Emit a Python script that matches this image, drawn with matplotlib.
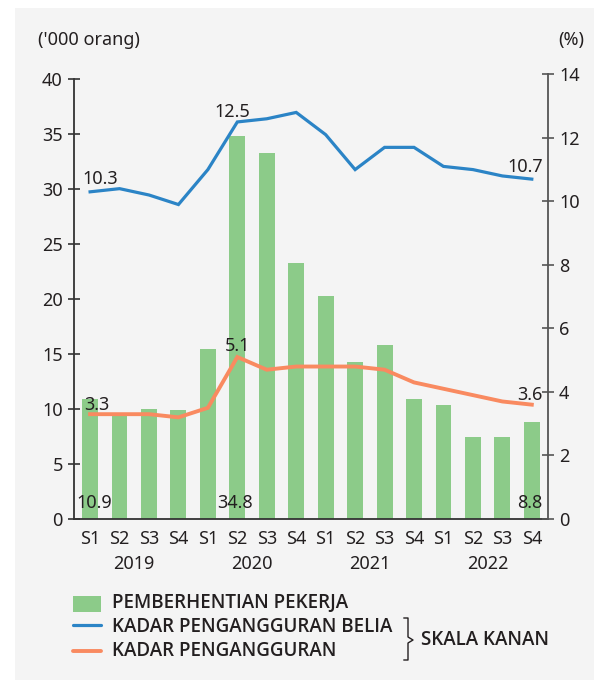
import matplotlib
matplotlib.use("Agg")
import matplotlib.pyplot as plt
from matplotlib.patches import Rectangle
from matplotlib.lines import Line2D

plt.rcParams['font.family'] = ['Noto Sans', 'DejaVu Sans']

# ---------------- data ----------------
quarters = ["S1", "S2", "S3", "S4"] * 4
years = ["2019", "2020", "2021", "2022"]
retrenchment = [10.9, 9.4, 10.0, 9.9, 15.5, 34.8, 33.3, 23.3,
                20.3, 14.3, 15.8, 10.9, 10.4, 7.5, 7.5, 8.8]
youth_unemp = [10.3, 10.4, 10.2, 9.9, 11.0, 12.5, 12.6, 12.8,
               12.1, 11.0, 11.7, 11.7, 11.1, 11.0, 10.8, 10.7]
unemp = [3.3, 3.3, 3.3, 3.2, 3.5, 5.1, 4.7, 4.8,
         4.8, 4.8, 4.7, 4.3, 4.1, 3.9, 3.7, 3.6]
legend_labels = ["PEMBERHENTIAN PEKERJA", "KADAR PENGANGGURAN BELIA",
                 "KADAR PENGANGGURAN"]

GREEN = "#8ccb89"
BLUE = "#2b84c6"
ORANGE = "#f98a60"
TXT = "#231f20"

W, H = 594, 680
fig = plt.figure(figsize=(W / 100, H / 100), dpi=100)
fig.patch.set_facecolor("white")

def fx(px):
    return px / W

def fy(py):
    return 1 - py / H

# background panel
fig.add_artist(Rectangle((fx(15), 0), 1 - fx(15), fy(8), transform=fig.transFigure,
                         facecolor="#f4f4f4", edgecolor="none", zorder=-10))

left, right = 73.9, 548
bottom_px, top_px = 519, 79
top2 = 74.3
ax = fig.add_axes([fx(left), fy(bottom_px), fx(right - left), (bottom_px - top_px) / H])
ax.patch.set_visible(False)
ax2 = fig.add_axes([fx(left), fy(bottom_px), fx(right - left), (bottom_px - top2) / H],
                   sharex=ax)
ax2.patch.set_visible(False)
ax2.yaxis.set_label_position("right")
ax2.yaxis.tick_right()
ax2.xaxis.set_visible(False)

x = list(range(len(quarters)))
ax.bar(x, retrenchment, width=0.54, color=GREEN, zorder=2)
ax2.plot(x, youth_unemp, color=BLUE, lw=2.3, solid_joinstyle="miter", zorder=3)
ax2.plot(x, unemp, color=ORANGE, lw=2.8, solid_joinstyle="miter", zorder=3)

ax.set_xlim(-0.55, 15.55)
ax.set_ylim(0, 40)
ax2.set_ylim(0, 14)
ax.set_yticks(range(0, 41, 5))
ax2.set_yticks(range(0, 15, 2))
ax.set_xticks(x)
ax.set_xticklabels(quarters)

for s in ("top", "right"):
    ax.spines[s].set_visible(False)
for s in ("top", "left", "bottom"):
    ax2.spines[s].set_visible(False)
ax.spines["left"].set_color("#333333")
ax.spines["bottom"].set_color("#333333")
ax2.spines["right"].set_color("#555555")
for s in ("left", "bottom"):
    ax.spines[s].set_linewidth(1.3)
ax2.spines["right"].set_linewidth(1.3)

ax.tick_params(axis="y", direction="inout", length=8, width=1.2, color="#333333",
               labelsize=13, labelcolor=TXT, pad=4)
ax2.tick_params(axis="y", direction="inout", length=8, width=1.2, color="#555555",
                labelsize=13, labelcolor=TXT, pad=4)
ax.tick_params(axis="x", length=0, labelsize=13, labelcolor=TXT, pad=8)

# year labels
for i, yr in enumerate(years):
    ax.annotate(yr, xy=(4 * i + 1.5, 0), xycoords=ax.get_xaxis_transform(),
                xytext=(0, -45), textcoords="offset pixels", ha="center", va="center",
                fontsize=13, color=TXT)

# axis unit labels
fig.text(fx(38), fy(40), "('000 orang)", ha="left", va="center", fontsize=13, color=TXT)
fig.text(fx(584), fy(40), "(%)", ha="right", va="center", fontsize=13, color=TXT)

# line value labels
def lab(axis, i, vals, dx, dy):
    axis.annotate(f"{vals[i]:.1f}", xy=(i, vals[i]), xytext=(dx, dy),
                  textcoords="offset pixels", ha="center", va="center",
                  fontsize=13, color=TXT, zorder=5)

lab(ax2, 0, youth_unemp, 10, 13)
lab(ax2, 5, youth_unemp, -5, 10)
lab(ax2, 15, youth_unemp, -7, 12)
lab(ax2, 0, unemp, 7, 9)
lab(ax2, 5, unemp, 0, 11)
lab(ax2, 15, unemp, -2, 10)

for i, dx in ((0, 4), (5, -2), (15, -2)):
    ax.annotate(f"{retrenchment[i]:.1f}", xy=(i, 0), xytext=(dx, 16),
                textcoords="offset pixels", ha="center", va="center",
                fontsize=13, color=TXT, zorder=5)

# legend (manual)
LEG_FONT = ["Open Sans", "Noto Sans", "DejaVu Sans"]
fig.add_artist(Rectangle((fx(73), fy(612)), fx(28), 16 / H, transform=fig.transFigure,
                         facecolor=GREEN, edgecolor="none"))
fig.add_artist(Line2D([fx(73), fx(101)], [fy(625), fy(625)], transform=fig.transFigure,
                      color=BLUE, lw=2.3, solid_capstyle="round"))
fig.add_artist(Line2D([fx(73), fx(101)], [fy(650.5), fy(650.5)], transform=fig.transFigure,
                      color=ORANGE, lw=2.8, solid_capstyle="round"))
for lbl, yy in zip(legend_labels, (603, 627, 651)):
    fig.text(fx(112), fy(yy), lbl, ha="left", va="center", fontsize=13.5,
             fontweight="semibold", family=LEG_FONT, color=TXT)
# brace
bx = [404, 408, 408, 413, 408, 408, 404]
by = [618, 618, 637, 640, 643, 660, 660]
fig.add_artist(Line2D([fx(v) for v in bx], [fy(v) for v in by], transform=fig.transFigure,
                      color=TXT, lw=1.0))
fig.text(fx(421), fy(640), "SKALA KANAN", ha="left", va="center", fontsize=13.5,
         fontweight="semibold", family=LEG_FONT, color=TXT)

fig.savefig("out.png", dpi=100, facecolor=fig.get_facecolor())
